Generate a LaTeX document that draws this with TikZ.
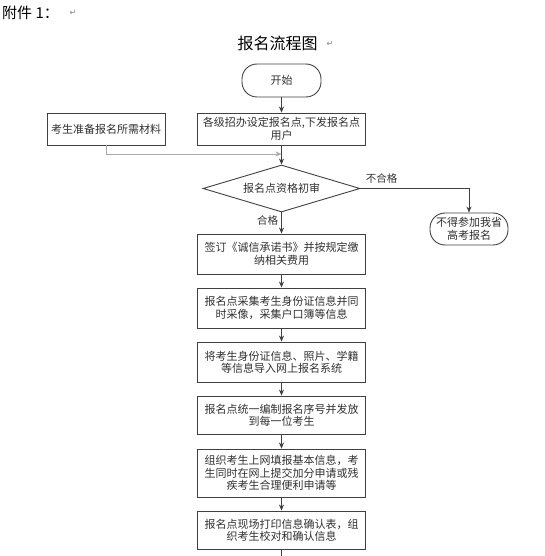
\documentclass[tikz,border=0pt]{standalone}
\usepackage{fontspec}
\setmainfont{Noto Sans CJK SC}
\newfontfamily\symfont{DejaVu Sans}
\usepackage{tikz}
\usetikzlibrary{positioning, arrows.meta, calc, shapes.geometric}
\usepackage{xcolor}
\definecolor{linegray}{HTML}{404040}
\definecolor{feedgray}{HTML}{A8A8A8}
\definecolor{textgray}{HTML}{303030}
\newcommand{\parmark}{{\symfont\color{gray}\fontsize{8}{8}\selectfont ↵}}

\begin{document}
\begin{tikzpicture}[x=1pt, y=-1pt, >={Stealth[length=6pt, width=5pt]},
  every node/.style={text=textgray},
  procbox/.style={draw=linegray, line width=0.9pt, minimum width=168pt, inner sep=2pt,
    align=center, font=\fontsize{11}{12.4}\selectfont},
  termbox/.style={draw=linegray, line width=0.9pt, rounded corners=15pt, inner sep=2pt,
    align=center, font=\fontsize{11}{12.4}\selectfont},
  checkbox/.style={draw=linegray, line width=0.9pt, diamond, aspect=3.34, inner sep=0pt,
    minimum width=157pt, minimum height=47pt, font=\fontsize{11}{12.4}\selectfont},
  flow/.style={draw=linegray, line width=0.6pt},
  feed/.style={draw=feedgray, line width=0.6pt},
  lbl/.style={font=\fontsize{10.5}{12}\selectfont}]
  % Page frame
  \useasboundingbox (0,0) rectangle (545,556);

  % Heading and title
  \node[anchor=west, inner sep=0pt, text=black, font=\fontsize{15}{15}\selectfont] (annex) at (2,13) {附件 1：};
  \node[inner sep=0pt] (annexmark) at (73,13) {\parmark};
  \node[inner sep=0pt, text=black, font=\fontsize{16}{16}\selectfont] (title) at (277.5,43) {报名流程图};
  \node[inner sep=0pt] (titlemark) at (330,44) {\parmark};

  % Main column
  \node[termbox, minimum width=79pt, minimum height=33pt] (start) at (281.5,80.5) {开始};
  \node[procbox, minimum height=32pt] (setup) at (281.5,129) {各级招办设定报名点,下发报名点\\用户};
  \node[procbox, minimum width=118pt, minimum height=32pt] (prep) at (106,129) {考生准备报名所需材料};
  \node[checkbox] (check) at (281.5,188.5) {报名点资格初审};
  \node[termbox, minimum width=78pt, minimum height=32pt] (reject) at (469,229) {不得参加我省\\高考报名};
  \node[procbox, minimum height=40pt] (sign) at (281.5,254) {签订《诚信承诺书》并按规定缴\\纳相关费用};
  \node[procbox, minimum height=40pt] (collect) at (281.5,308) {报名点采集考生身份证信息并同\\时采像，采集户口簿等信息};
  \node[procbox, minimum height=40pt] (import) at (281.5,362) {将考生身份证信息、照片、学籍\\等信息导入网上报名系统};
  \node[procbox, minimum height=38pt] (number) at (281.5,415) {报名点统一编制报名序号并发放\\到每一位考生};
  \node[procbox, minimum height=48pt] (fill) at (281.5,473) {组织考生上网填报基本信息，考\\生同时在网上提交加分申请或残\\疾考生合理便利申请等};
  \node[procbox, minimum height=38pt] (print) at (281.5,530) {报名点现场打印信息确认表，组\\织考生校对和确认信息};
  \coordinate (join) at (281.5,154);
  \coordinate (tail) at (281.5,556);

  % Connectors
  \draw[flow, ->] (start) -- (setup);
  \draw[feed, ->] (prep.south) |- (join);
  \draw[flow, ->] (setup) -- (check);
  \draw[flow, ->] (check.east) -| (reject.north);
  \draw[flow, ->] (check) -- (sign);
  \draw[flow, ->] (sign) -- (collect);
  \draw[flow, ->] (collect) -- (import);
  \draw[flow, ->] (import) -- (number);
  \draw[flow, ->] (number) -- (fill);
  \draw[flow, ->] (fill) -- (print);
  \draw[flow] (print) -- (tail);

  % Branch labels
  \node[lbl] (nopass) at (381.5,178.5) {不合格};
  \node[lbl] (pass) at (267.5,220) {合格};
\end{tikzpicture}
\end{document}
